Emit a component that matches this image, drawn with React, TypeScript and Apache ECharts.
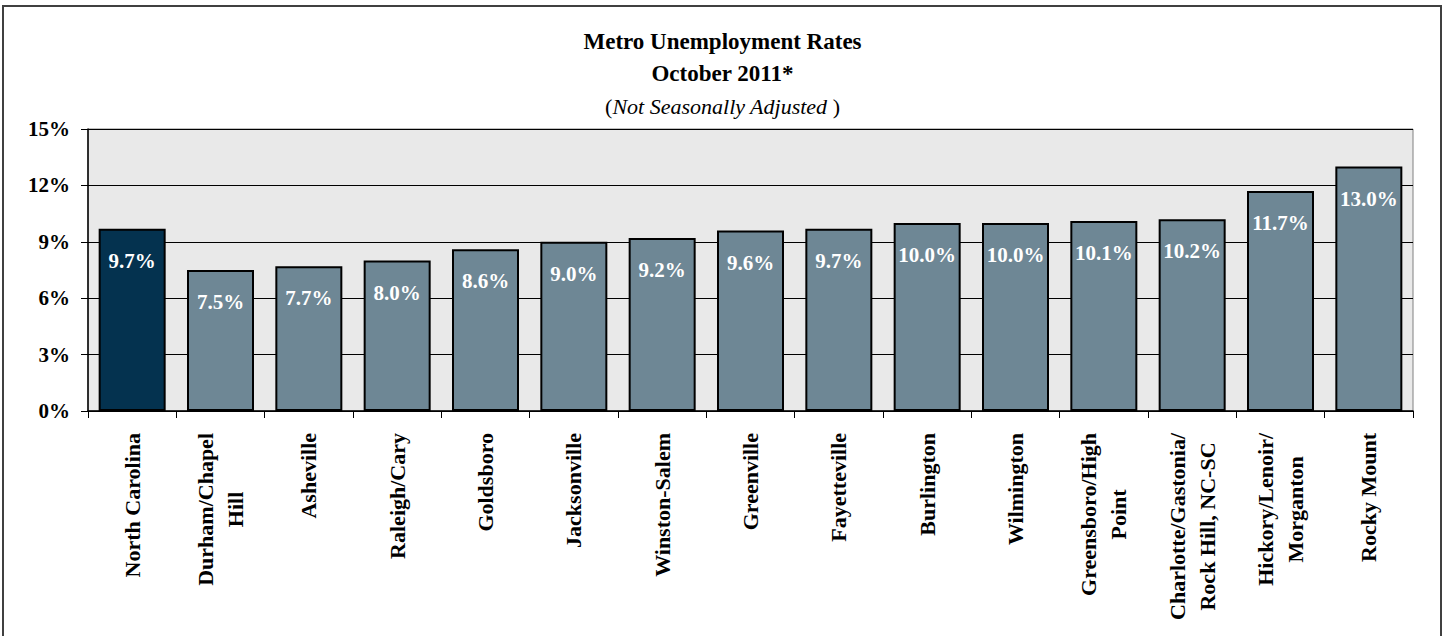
import React, { useEffect, useRef } from "react";
import * as echarts from "echarts";

const categories: string[] = [
  "North Carolina",
  "Durham/Chapel\nHill",
  "Asheville",
  "Raleigh/Cary",
  "Goldsboro",
  "Jacksonville",
  "Winston-Salem",
  "Greenville",
  "Fayetteville",
  "Burlington",
  "Wilmington",
  "Greensboro/High\nPoint",
  "Charlotte/Gastonia/\nRock Hill, NC-SC",
  "Hickory/Lenoir/\nMorganton",
  "Rocky Mount",
];

const rates: number[] = [9.7, 7.5, 7.7, 8.0, 8.6, 9.0, 9.2, 9.6, 9.7, 10.0, 10.0, 10.1, 10.2, 11.7, 13.0];

const yTicks: number[] = [0, 3, 6, 9, 12, 15];

const titleLines: string[] = ["Metro Unemployment Rates", "October 2011*", "Not Seasonally Adjusted "];

const SERIF = "'Liberation Serif', 'Times New Roman', serif";
const STATE_COLOR = "#04324f";
const METRO_COLOR = "#6e8795";

export default function App() {
  const ref = useRef<HTMLDivElement>(null);

  useEffect(() => {
    if (!ref.current) return;
    const chart = echarts.init(ref.current, undefined, { renderer: "svg" });

    const data = rates.map((v, i) => ({
      value: v,
      itemStyle: { color: i === 0 ? STATE_COLOR : METRO_COLOR },
    }));

    const option: any = {
      animation: false,
      backgroundColor: "#ffffff",
      title: {
        left: "center",
        top: 25,
        padding: 0,
        text:
          "{b|" + titleLines[0] + "}\n{b|" + titleLines[1] + "}\n{p|(}{i|" + titleLines[2] + "}{p|)}",
        textStyle: {
          fontFamily: SERIF,
          fontSize: 23,
          fontWeight: "bold",
          color: "#000",
          lineHeight: 32,
          rich: {
            b: { fontFamily: SERIF, fontSize: 23, fontWeight: "bold", color: "#000", lineHeight: 32 },
            p: { fontFamily: SERIF, fontSize: 22, fontWeight: "normal", color: "#000", lineHeight: 34 },
            i: { fontFamily: SERIF, fontSize: 22, fontWeight: "normal", fontStyle: "italic", color: "#000", lineHeight: 34 },
          },
        },
      },
      graphic: [
        {
          type: "rect",
          shape: { x: 3, y: 6, width: 1438, height: 640 },
          style: { fill: "none", stroke: "#404040", lineWidth: 2 },
          silent: true,
          z: 100,
        },
      ],
      grid: {
        left: 88,
        right: 32,
        top: 129,
        bottom: 225,
        show: true,
        backgroundColor: "#e9e9e9",
        borderColor: "#808080",
        borderWidth: 1,
      },
      xAxis: {
        type: "category",
        data: categories,
        boundaryGap: true,
        axisLine: { show: true, lineStyle: { color: "#000", width: 1.5 } },
        axisTick: { show: true, length: 7, lineStyle: { color: "#000", width: 1 } },
        axisLabel: {
          rotate: 90,
          margin: 22,
          interval: 0,
          fontFamily: SERIF,
          fontSize: 22,
          fontWeight: "bold",
          color: "#000",
          lineHeight: 30,
          formatter: (value: string) =>
            value
              .split("\n")
              .map((l) => "{c|" + l + "}")
              .join("\n"),
          rich: {
            c: {
              align: "center",
              fontFamily: SERIF,
              fontSize: 22,
              fontWeight: "bold",
              color: "#000",
              lineHeight: 30,
            },
          },
        },
      },
      yAxis: {
        type: "value",
        min: yTicks[0],
        max: yTicks[yTicks.length - 1],
        interval: yTicks[1] - yTicks[0],
        axisLine: { show: true, lineStyle: { color: "#000", width: 1.5 } },
        axisTick: { show: true, length: 7, lineStyle: { color: "#000", width: 1 } },
        axisLabel: {
          margin: 18,
          fontFamily: SERIF,
          fontSize: 21,
          fontWeight: "bold",
          color: "#000",
          formatter: (v: number) => v + "%",
        },
        splitLine: { show: true, lineStyle: { color: "#000", width: 1 } },
      },
      series: [
        {
          type: "bar",
          data,
          barWidth: 67,
          itemStyle: { borderColor: "#000", borderWidth: 2 },
          label: {
            show: true,
            position: "insideTop",
            distance: 21,
            fontFamily: SERIF,
            fontSize: 21,
            fontWeight: "bold",
            color: "#fff",
            lineHeight: 22,
            formatter: (p: any) => Number(p.value).toFixed(1) + "%",
          },
        },
      ],
    };

    chart.setOption(option);
    return () => {
      chart.dispose();
    };
  }, []);

  return (
    <div
      ref={ref}
      style={{ position: "fixed", left: 0, top: 0, width: 1445, height: 636 }}
    />
  );
}
